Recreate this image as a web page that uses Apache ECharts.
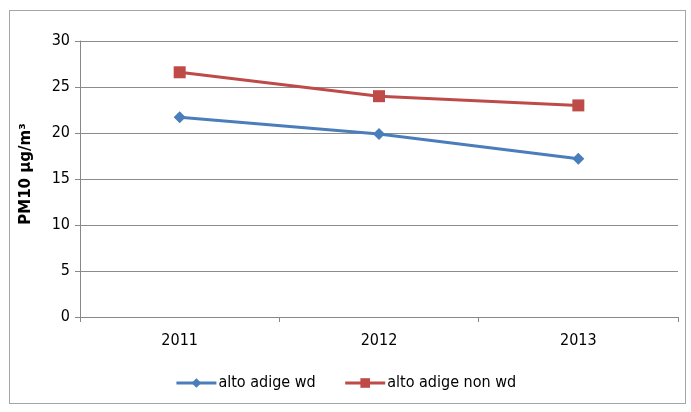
<!DOCTYPE html>
<html>
<head>
<meta charset="utf-8">
<style>
  html, body { margin: 0; padding: 0; background: #fff; }
  #frame { position: absolute; left: 9px; top: 10px; width: 677px; height: 394px; border: 1px solid #a6a6a6; box-sizing: border-box; }
  #chart { position: absolute; left: 0; top: 0; width: 691px; height: 412px; }
</style>
<script src="https://cdn.jsdelivr.net/npm/echarts@6/dist/echarts.min.js"></script>
</head>
<body>
<div id="frame"></div>
<div id="chart"></div>
<script>
// PM10 yearly means, Alto Adige
const years = ['2011', '2012', '2013'];
const wd = [21.7, 19.9, 17.2];
const nonWd = [26.6, 24.0, 23.0];
const yTicks = [0, 5, 10, 15, 20, 25, 30];

const chart = echarts.init(document.getElementById('chart'));
const labelFont = '"DejaVu Sans Condensed", "Liberation Sans Narrow", sans-serif';

chart.setOption({
  animation: false,
  grid: { left: 80, right: 13, top: 41, bottom: 95, containLabel: false, outerBoundsMode: 'none' },
  legend: {
    bottom: 16,
    left: 'center',
    itemGap: 28,
    itemWidth: 40,
    itemHeight: 12,
    lineStyle: { width: 3 },
    textStyle: { fontFamily: labelFont, fontSize: 16, color: '#000', padding: [0, 0, 0, -3] },
    data: ['alto adige wd', 'alto adige non wd']
  },
  xAxis: {
    type: 'category',
    data: years,
    boundaryGap: true,
    axisLine: { lineStyle: { color: '#888', width: 1 } },
    axisTick: { show: true, length: 5, lineStyle: { color: '#888' } },
    axisLabel: { fontFamily: labelFont, fontSize: 16, color: '#000', margin: 16 }
  },
  yAxis: {
    type: 'value',
    min: yTicks[0],
    max: yTicks[yTicks.length - 1],
    interval: 5,
    name: 'PM10 µg/m³',
    nameLocation: 'middle',
    nameGap: 46,
    nameRotate: 90,
    nameTextStyle: { fontFamily: '"DejaVu Sans", sans-serif', fontSize: 15, fontWeight: 'bold', color: '#000', padding: [0, 0, 0, 10] },
    axisLine: { show: true, lineStyle: { color: '#888', width: 1 } },
    axisTick: { show: true, length: 5, lineStyle: { color: '#888' } },
    axisLabel: { fontFamily: labelFont, fontSize: 16, color: '#000', margin: 10 },
    splitLine: { lineStyle: { color: '#8c8c8c', width: 1 } }
  },
  series: [
    {
      name: 'alto adige wd',
      type: 'line',
      data: wd,
      symbol: 'diamond',
      symbolSize: 12,
      itemStyle: { color: '#4a7ebb' },
      lineStyle: { color: '#4a7ebb', width: 3 }
    },
    {
      name: 'alto adige non wd',
      type: 'line',
      data: nonWd,
      symbol: 'rect',
      symbolSize: 12,
      itemStyle: { color: '#be4b48' },
      lineStyle: { color: '#be4b48', width: 3 }
    }
  ]
});
</script>
</body>
</html>
